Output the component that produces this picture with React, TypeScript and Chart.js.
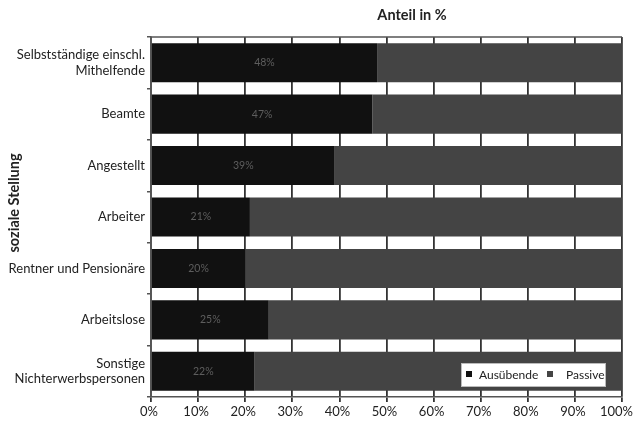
import React, { useEffect, useRef } from "react";
import { Chart, registerables } from "chart.js";

Chart.register(...registerables);

const categories: (string | string[])[] = [
  ["Selbstständige einschl.", "Mithelfende"],
  "Beamte",
  "Angestellt",
  "Arbeiter",
  "Rentner und Pensionäre",
  "Arbeitslose",
  ["Sonstige", "Nichterwerbspersonen"],
];
const ausuebende = [48, 47, 39, 21, 20, 25, 22];
const passive = ausuebende.map((v) => 100 - v);
const xTicks = [0, 10, 20, 30, 40, 50, 60, 70, 80, 90, 100];

const FONT = "Lato, 'Open Sans', sans-serif";

const overlayPlugin = {
  id: "overlay",
  afterDatasetsDraw(chart: any) {
    const { ctx, chartArea } = chart;
    ctx.save();
    // data labels
    const meta = chart.getDatasetMeta(0);
    ctx.font = `10.5px ${FONT}`;
    ctx.fillStyle = "#5e5e5e";
    ctx.textAlign = "center";
    ctx.textBaseline = "middle";
    meta.data.forEach((el: any, i: number) => {
      const cx = (el.base + el.x) / 2;
      ctx.fillText(`${ausuebende[i]}%`, cx, el.y);
    });
    // top border
    ctx.strokeStyle = "#555";
    ctx.lineWidth = 1.5;
    ctx.beginPath();
    ctx.moveTo(chartArea.left, chartArea.top);
    ctx.lineTo(chartArea.right, chartArea.top);
    ctx.stroke();
    // title
    ctx.font = `bold 14.5px ${FONT}`;
    ctx.fillStyle = "#222";
    ctx.textAlign = "center";
    ctx.fillText("Anteil in %", 412, 15);
    // y title
    ctx.save();
    ctx.translate(14, 203);
    ctx.rotate(-Math.PI / 2);
    ctx.font = `bold 14.5px ${FONT}`;
    ctx.fillText("soziale Stellung", 0, 0);
    ctx.restore();
    // last x tick label, pulled inside the canvas
    const xs = chart.scales.x;
    ctx.font = `13px ${FONT}`;
    ctx.fillStyle = "#222";
    ctx.textAlign = "right";
    ctx.textBaseline = "top";
    ctx.fillText(`${xTicks[xTicks.length - 1]}%`, 633, xs.bottom - xs.height + 8);
    // legend
    const w = 144, h = 23;
    const lx = chartArea.right - 17 - w;
    const ly = chartArea.bottom - 11 - h;
    ctx.textBaseline = "middle";
    ctx.fillStyle = "#ffffff";
    ctx.fillRect(lx, ly, w, h);
    ctx.strokeStyle = "#bbb";
    ctx.lineWidth = 1;
    ctx.strokeRect(lx + 0.5, ly + 0.5, w, h);
    ctx.fillStyle = "#111";
    ctx.fillRect(lx + 5, ly + 8, 6, 6);
    ctx.fillStyle = "#444";
    ctx.fillRect(lx + 86, ly + 8, 6, 6);
    ctx.font = `12px ${FONT}`;
    ctx.fillStyle = "#222";
    ctx.textAlign = "left";
    ctx.fillText("Ausübende", lx + 18, ly + h / 2 + 1);
    ctx.fillText("Passive", lx + 105, ly + h / 2 + 1);
    ctx.restore();
  },
};

export default function App() {
  const ref = useRef<HTMLCanvasElement>(null);
  useEffect(() => {
    document.body.style.margin = "0";
    const chart = new Chart(ref.current!, {
      type: "bar",
      data: {
        labels: categories,
        datasets: [
          { label: "Ausübende", data: ausuebende, backgroundColor: "#111111", barPercentage: 0.76, categoryPercentage: 1 },
          { label: "Passive", data: passive, backgroundColor: "#444444", barPercentage: 0.76, categoryPercentage: 1 },
        ],
      },
      options: {
        indexAxis: "y",
        animation: false,
        responsive: false,
        layout: { padding: { top: 37, right: 13, left: 0, bottom: 0 } },
        plugins: { legend: { display: false }, tooltip: { enabled: false }, title: { display: false } },
        scales: {
          x: {
            stacked: true,
            min: 0,
            max: 100,
            afterBuildTicks(scale: any) {
              scale.ticks = xTicks.map((v) => ({ value: v }));
            },
            afterFit(scale: any) {
              scale.height = 24;
              scale.paddingLeft = 0;
              scale.paddingRight = 0;
            },
            ticks: {
              callback: (v: any) => (v === xTicks[xTicks.length - 1] ? "" : `${v}%`),
              color: "#222",
              font: { family: FONT, size: 13 },
              padding: 2,
              maxRotation: 0,
              labelOffset: -2,
            },
            grid: { color: "#333", lineWidth: 1.8, tickLength: 5 },
            border: { color: "#555", width: 1.5 },
          },
          y: {
            stacked: true,
            afterFit(scale: any) {
              scale.width = 151;
              scale.paddingTop = 0;
              scale.paddingBottom = 0;
            },
            ticks: {
              color: "#222",
              font: { family: FONT, size: 13 },
              padding: 2,
            },
            grid: { offset: true, drawOnChartArea: false, color: "#555", tickLength: 4, lineWidth: 1.5 },
            border: { color: "#555", width: 1.5 },
          },
        },
      },
      plugins: [overlayPlugin],
    });
    return () => chart.destroy();
  }, []);
  return (
    <div style={{ position: "fixed", left: 0, top: 0, width: 635, height: 421 }}>
      <canvas ref={ref} width={635} height={421} style={{ width: 635, height: 421 }} />
    </div>
  );
}
